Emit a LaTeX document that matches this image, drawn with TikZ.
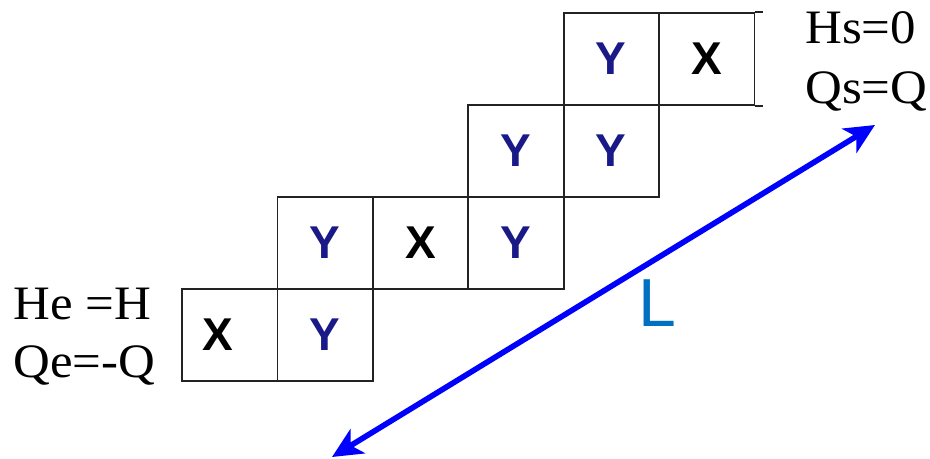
\documentclass[tikz,border=0pt]{standalone}
\usepackage{fontspec}
\setmainfont{Liberation Serif}[FakeStretch=1.06]
\setsansfont{Liberation Sans}
\usetikzlibrary{arrows.meta}
\definecolor{navy}{RGB}{25,25,135}
\definecolor{ocean}{RGB}{0,112,192}
\definecolor{pureblue}{RGB}{0,0,255}
\definecolor{ink}{RGB}{35,35,35}
\tikzset{
  cell/.style={draw=ink,line width=0.9pt,minimum width=47.7pt,minimum height=46pt,
    inner sep=0pt,font=\sffamily\bfseries\fontsize{23}{23}\selectfont},
  bc/.style={font=\fontsize{24}{30}\selectfont,anchor=base west,inner sep=0pt},
  span/.style={{Stealth[length=15pt,width=14pt,inset=4pt]}-{Stealth[length=15pt,width=14pt,inset=4pt]},
    line width=2.8pt,draw=pureblue},
}
\begin{document}
\begin{tikzpicture}[x=0.5pt,y=-0.5pt]
  \useasboundingbox (0,0) rectangle (930,459);
  % staircase of cells
  \foreach \r/\c/\t/\k/\dx in {0/4/Y/navy/0pt,0/5/X/black/0pt,1/3/Y/navy/0pt,1/4/Y/navy/0pt,
      2/1/Y/navy/0pt,2/2/X/black/0pt,2/3/Y/navy/0pt,3/0/X/black/-12pt,3/1/Y/navy/0pt}
    \node[cell,text=\k] (c\r\c) at ({229.7+95.4*\c},{59+92*\r}) {\kern\dx\t};
  \draw[ink,line width=0.9pt] (c05.north east) -- ++(8,0) (c05.south east) -- ++(8,0);
  % boundary conditions
  \node[bc] (hs) at (805,44) {Hs=0};
  \node[bc] (qs) at (805,104) {Qs=Q};
  \node[bc] (he) at (13,320) {He =H};
  \node[bc] (qe) at (13,377) {Qe=-Q};
  % length
  \coordinate (lo) at (332,457);
  \coordinate (hi) at (875,125);
  \draw[span] (lo) -- (hi);
  \node[font=\sffamily\fontsize{34}{34}\selectfont,text=ocean,anchor=base west,inner sep=0pt] (len) at (638,327) {L};
\end{tikzpicture}
\end{document}
